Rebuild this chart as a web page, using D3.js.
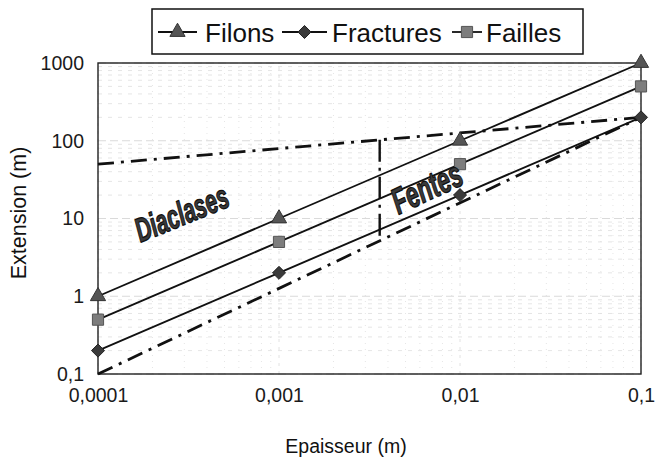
<!DOCTYPE html>
<html>
<head>
<meta charset="utf-8">
<script src="https://cdn.jsdelivr.net/npm/d3@7"></script>
<style>
  html, body { margin: 0; padding: 0; background: #fff; }
  svg { display: block; font-family: "Liberation Sans", Arial, sans-serif; }
</style>
</head>
<body>
<svg id="chart" width="656" height="459"></svg>
<script>
// Thickness (m) on the x axis
const epaisseur = [0.0001, 0.001, 0.01, 0.1];
// Extension (m) for each series
const filons = [1, 10, 100, 1000];
const fractures = [0.2, 2, 20, 200];
const failles = [0.5, 5, 50, 500];
// Dash-dot domain boundaries [x, y]
const limiteHaute = [[0.0001, 50], [0.1, 200]];
const limiteBasse = [[0.0001, 0.1], [0.1, 200]];
const limiteX = 0.0036;
// Tick labels
const xTicks = [0.0001, 0.001, 0.01, 0.1];
const xTickLabels = ["0,0001", "0,001", "0,01", "0,1"];
const yTicks = [0.1, 1, 10, 100, 1000];
const yTickLabels = ["0,1", "1", "10", "100", "1000"];

const svg = d3.select("#chart");
const margin = { left: 98, right: 15, top: 63, bottom: 85 };
const W = 656, H = 459;
const x = d3.scaleLog().domain([0.0001, 0.1]).range([margin.left, W - margin.right]);
const y = d3.scaleLog().domain([0.1, 1000]).range([H - margin.bottom, margin.top]);

// Minor and major grid
const grid = svg.append("g");
const minorVals = (lo, hi) => {
  const out = [];
  for (let e = Math.log10(lo); e < Math.log10(hi); e++) {
    for (let k = 2; k <= 9; k++) out.push(k * Math.pow(10, e));
  }
  return out;
};
grid.selectAll(".gx").data(minorVals(0.0001, 0.1)).join("line")
  .attr("x1", d => x(d)).attr("x2", d => x(d))
  .attr("y1", y(0.1)).attr("y2", y(1000))
  .attr("stroke", "#e0e0e0").attr("stroke-width", 0.8).attr("stroke-dasharray", "1,5");
grid.selectAll(".gy").data(minorVals(0.1, 1000)).join("line")
  .attr("x1", x(0.0001)).attr("x2", x(0.1))
  .attr("y1", d => y(d)).attr("y2", d => y(d))
  .attr("stroke", "#dedede").attr("stroke-width", 0.8).attr("stroke-dasharray", "4,6");
grid.selectAll(".gY").data(yTicks).join("line")
  .attr("x1", x(0.0001)).attr("x2", x(0.1))
  .attr("y1", d => y(d)).attr("y2", d => y(d))
  .attr("stroke", "#d0d0d0").attr("stroke-width", 0.8).attr("stroke-dasharray", "8,4");
grid.selectAll(".gX").data(xTicks).join("line")
  .attr("x1", d => x(d)).attr("x2", d => x(d))
  .attr("y1", y(0.1)).attr("y2", y(1000))
  .attr("stroke", "#dadada").attr("stroke-width", 0.8).attr("stroke-dasharray", "3,5");

// Frame
svg.append("rect")
  .attr("x", x(0.0001)).attr("y", y(1000))
  .attr("width", x(0.1) - x(0.0001)).attr("height", y(0.1) - y(1000))
  .attr("fill", "none").attr("stroke", "#222").attr("stroke-width", 1.4);

// Axes (labels only; frame draws the lines)
const xAxis = d3.axisBottom(x).tickValues(xTicks)
  .tickFormat((d, i) => xTickLabels[i]).tickSize(0).tickPadding(14);
svg.append("g").attr("transform", `translate(0,${y(0.1)})`).call(xAxis)
  .call(g => g.select(".domain").remove())
  .selectAll("text").attr("font-size", 19.5).attr("fill", "#1a1a1a")
  .attr("font-family", "Liberation Sans, Arial, sans-serif");
const yAxis = d3.axisLeft(y).tickValues(yTicks)
  .tickFormat((d, i) => yTickLabels[i]).tickSize(0).tickPadding(14);
svg.append("g").attr("transform", `translate(${x(0.0001)},0)`).call(yAxis)
  .call(g => g.select(".domain").remove())
  .selectAll("text").attr("font-size", 19.5).attr("fill", "#1a1a1a")
  .attr("font-family", "Liberation Sans, Arial, sans-serif");

// Axis titles
svg.append("text").attr("x", 346).attr("y", 453).attr("text-anchor", "middle")
  .attr("font-size", 19.5).attr("fill", "#111").text("Epaisseur (m)");
svg.append("text").attr("transform", "translate(26,213) rotate(-90)")
  .attr("text-anchor", "middle").attr("font-size", 21.5).attr("fill", "#111")
  .text("Extension (m)");

// Dash-dot boundaries
const dashDot = "16,7,3,7";
const lineXY = d3.line().x(d => x(d[0])).y(d => y(d[1]));
[limiteHaute, limiteBasse].forEach(pts => {
  svg.append("path").attr("d", lineXY(pts))
    .attr("fill", "none").attr("stroke", "#111").attr("stroke-width", 2.8)
    .attr("stroke-dasharray", dashDot);
});
const interp = (pts, xv) => {
  const t = (Math.log10(xv) - Math.log10(pts[0][0])) / (Math.log10(pts[1][0]) - Math.log10(pts[0][0]));
  return Math.pow(10, Math.log10(pts[0][1]) + t * (Math.log10(pts[1][1]) - Math.log10(pts[0][1])));
};
svg.append("line")
  .attr("x1", x(limiteX)).attr("x2", x(limiteX))
  .attr("y1", y(interp(limiteHaute, limiteX))).attr("y2", y(interp(limiteBasse, limiteX)))
  .attr("stroke", "#111").attr("stroke-width", 2.4).attr("stroke-dasharray", "22,6,3,6");

// Series
const diamond = { draw(ctx, size) { const r = Math.sqrt(size / 2); ctx.moveTo(0, -r); ctx.lineTo(r, 0); ctx.lineTo(0, r); ctx.lineTo(-r, 0); ctx.closePath(); } };
const series = [
  { name: "Filons", values: filons, symbol: d3.symbolTriangle, size: 100, fill: "#555", stroke: "#333" },
  { name: "Fractures", values: fractures, symbol: diamond, size: 85, fill: "#3a3a3a", stroke: "#222" },
  { name: "Failles", values: failles, symbol: d3.symbolSquare, size: 125, fill: "#7d7d7d", stroke: "#555" }
];
const lineS = d3.line().x((d, i) => x(epaisseur[i])).y(d => y(d));
series.forEach(s => {
  svg.append("path").attr("d", lineS(s.values))
    .attr("fill", "none").attr("stroke", "#111").attr("stroke-width", 1.9);
});
series.forEach(s => {
  svg.append("g").selectAll("path").data(s.values).join("path")
    .attr("transform", (d, i) => `translate(${x(epaisseur[i])},${y(d)})`)
    .attr("d", d3.symbol().type(s.symbol).size(s.size))
    .attr("fill", s.fill).attr("stroke", s.stroke).attr("stroke-width", 1);
});

// Zone labels
const zone = (label, cx, cy, angle, size) => {
  svg.append("text")
    .attr("transform", `translate(${cx},${cy}) rotate(${angle}) scale(0.82,1.3)`)
    .attr("text-anchor", "middle")
    .attr("font-size", size).attr("font-weight", "bold").attr("font-style", "italic")
    .attr("fill", "#3a3a3a").attr("stroke", "#111").attr("stroke-width", 1)
    .attr("stroke-linejoin", "round")
    .text(label);
};
zone("Diaclases", 186, 224, -22, 26);
zone("Fentes", 432, 199, -25, 28);

// Legend
const leg = svg.append("g");
leg.append("rect").attr("x", 152).attr("y", 9).attr("width", 431).attr("height", 45)
  .attr("fill", "#fff").attr("stroke", "#111").attr("stroke-width", 1.5);
const legItems = [
  { s: series[0], x1: 158, x2: 197, tx: 205 },
  { s: series[1], x1: 282, x2: 327, tx: 332 },
  { s: series[2], x1: 452, x2: 482, tx: 486 }
];
legItems.forEach(it => {
  leg.append("line").attr("x1", it.x1).attr("x2", it.x2).attr("y1", 32).attr("y2", 32)
    .attr("stroke", "#111").attr("stroke-width", 1.8);
  leg.append("path").attr("transform", `translate(${(it.x1 + it.x2) / 2},32)`)
    .attr("d", d3.symbol().type(it.s.symbol).size(it.s.size))
    .attr("fill", it.s.fill).attr("stroke", it.s.stroke).attr("stroke-width", 1);
  leg.append("text").attr("x", it.tx).attr("y", 42).attr("font-size", 26)
    .attr("fill", "#111").text(it.s.name);
});
</script>
</body>
</html>
